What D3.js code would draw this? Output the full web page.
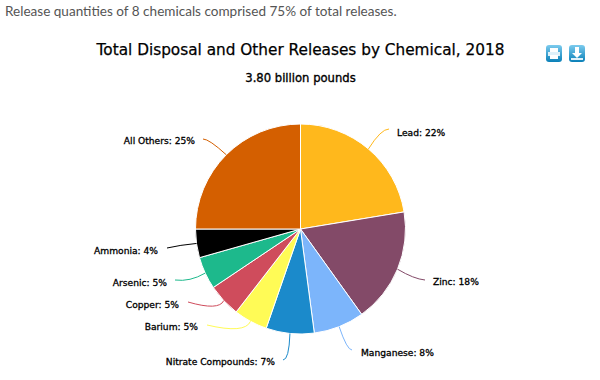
<!DOCTYPE html>
<html>
<head>
<meta charset="utf-8">
<script src="https://cdn.jsdelivr.net/npm/d3@7"></script>
<style>
  html, body { margin: 0; padding: 0; background: #fff; overflow: hidden; }
  text { font-family: "DejaVu Sans", sans-serif; }
</style>
</head>
<body>
<svg id="chart" width="600" height="380"></svg>
<script>
const chemicals = ["Lead", "Zinc", "Manganese", "Nitrate Compounds", "Barium", "Copper", "Arsenic", "Ammonia", "All Others"];
const shares = [22.4, 17.7, 7.8, 7.4, 5.2, 5.1, 5.0, 4.4, 25.0];
const shareLabels = [22, 18, 8, 7, 5, 5, 5, 4, 25];
const colors = ["#ffb81c", "#834a68", "#7cb5fb", "#1b8acb", "#fffb56", "#cf4c5c", "#1db98c", "#000000", "#d45f00"];

const svg = d3.select("#chart");
const cx = 300.5, cy = 229, radius = 105;

// label spot and where the connector stops, one per slice
const labelSpots = [
  { x: 397, y: 135.5, anchor: "start", endX: 389, endY: 129, bendX: 381, bendY: 129 },
  { x: 433, y: 284.5, anchor: "start", endX: 425, endY: 280, bendX: 414, bendY: 279 },
  { x: 361, y: 355.5, anchor: "start", endX: 352, endY: 350, bendX: 347, bendY: 350 },
  { x: 275, y: 364.5, anchor: "end", endX: 283, endY: 360, bendX: 289, bendY: 360 },
  { x: 198, y: 329.5, anchor: "end", endX: 207, endY: 325, bendX: 245, bendY: 334 },
  { x: 179, y: 307.5, anchor: "end", endX: 188, endY: 302, bendX: 219, bendY: 311 },
  { x: 167, y: 285.5, anchor: "end", endX: 175, endY: 280, bendX: 190, bendY: 282 },
  { x: 158, y: 253.5, anchor: "end", endX: 167, endY: 248, bendX: 180, bendY: 245 },
  { x: 195, y: 143.5, anchor: "end", endX: 203, endY: 139, bendX: 209, bendY: 139 }
];

svg.append("text")
  .attr("x", 5).attr("y", 16)
  .attr("font-size", "13.55px")
  .attr("fill", "#555")
  .style("font-family", "Lato, sans-serif")
  .text("Release quantities of 8 chemicals comprised 75% of total releases.");

svg.append("text")
  .attr("x", 300.5).attr("y", 55)
  .attr("text-anchor", "middle")
  .attr("font-size", "15.3px")
  .attr("fill", "#000")
  .attr("stroke", "#000")
  .attr("stroke-width", 0.25)
  .text("Total Disposal and Other Releases by Chemical, 2018");

svg.append("text")
  .attr("x", 300.5).attr("y", 81.5)
  .attr("text-anchor", "middle")
  .attr("font-size", "11.6px")
  .attr("fill", "#000")
  .attr("stroke", "#000")
  .attr("stroke-width", 0.35)
  .text("3.80 billion pounds");

// print and download buttons
const defs = svg.append("defs");
const grad = defs.append("linearGradient")
  .attr("id", "btn").attr("x1", 0).attr("y1", 0).attr("x2", 0).attr("y2", 1);
grad.append("stop").attr("offset", "0%").attr("stop-color", "#7ccbee");
grad.append("stop").attr("offset", "100%").attr("stop-color", "#0a80b8");

[546, 569].forEach((bx, i) => {
  const g = svg.append("g").attr("transform", `translate(${bx},45)`);
  g.append("rect").attr("width", 16).attr("height", 17).attr("rx", 3).attr("fill", "url(#btn)");
  if (i === 0) {
    g.append("rect").attr("x", 4).attr("y", 3).attr("width", 8).attr("height", 4).attr("fill", "#fff");
    g.append("rect").attr("x", 2).attr("y", 7).attr("width", 12).attr("height", 4).attr("fill", "#dff1fa");
    g.append("rect").attr("x", 4).attr("y", 10).attr("width", 8).attr("height", 4).attr("fill", "#fff");
  } else {
    g.append("path").attr("d", "M6 2H10V8H13L8 13L3 8H6Z").attr("fill", "#fff");
    g.append("rect").attr("x", 2).attr("y", 13).attr("width", 12).attr("height", 2).attr("fill", "#dff1fa");
  }
});

const rows = chemicals.map((name, i) => ({ name, share: shares[i], label: shareLabels[i], color: colors[i], spot: labelSpots[i] }));

const pie = d3.pie().sort(null).value(d => d.share);
const arc = d3.arc().innerRadius(0).outerRadius(radius);
const arcs = pie(rows);

const plot = svg.append("g").attr("transform", `translate(${cx},${cy})`);

plot.selectAll("path.slice")
  .data(arcs)
  .enter()
  .append("path")
  .attr("class", "slice")
  .attr("d", arc)
  .attr("fill", d => d.data.color)
  .attr("stroke", "#fff")
  .attr("stroke-width", 1);

function connector(d) {
  const mid = (d.startAngle + d.endAngle) / 2;
  const sx = cx + radius * Math.sin(mid);
  const sy = cy - radius * Math.cos(mid);
  const s = d.data.spot;
  return `M${sx},${sy}Q${s.bendX},${s.bendY} ${s.endX},${s.endY}`;
}

svg.selectAll("path.connector")
  .data(arcs)
  .enter()
  .append("path")
  .attr("class", "connector")
  .attr("d", connector)
  .attr("fill", "none")
  .attr("stroke", d => d.data.color)
  .attr("stroke-width", 1);

svg.selectAll("text.label")
  .data(arcs)
  .enter()
  .append("text")
  .attr("class", "label")
  .attr("x", d => d.data.spot.x)
  .attr("y", d => d.data.spot.y)
  .attr("text-anchor", d => d.data.spot.anchor)
  .attr("font-size", "9.15px")
  .attr("fill", "#000")
  .attr("stroke", "#000")
  .attr("stroke-width", 0.3)
  .text(d => `${d.data.name}: ${d.data.label}%`);
</script>
</body>
</html>
